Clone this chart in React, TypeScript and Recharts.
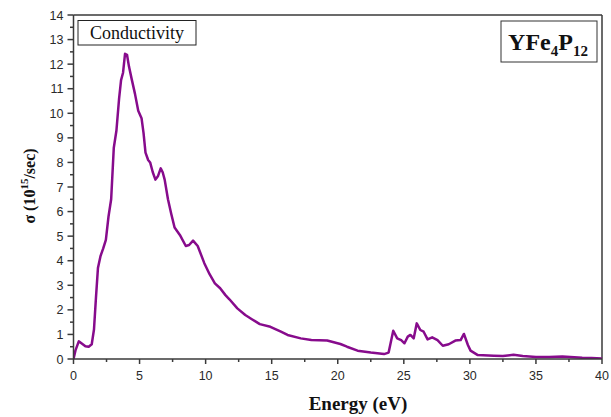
import React from "react";
import { LineChart, Line, XAxis, YAxis, ReferenceLine } from "recharts";

// Photon energy (eV) and optical conductivity σ (10^15 /sec)
const energy = [
  0, 0.15, 0.4, 0.65, 0.9, 1.15, 1.38, 1.55, 1.7, 1.85,
  2.05, 2.25, 2.45, 2.65, 2.85, 3.05, 3.25, 3.45, 3.6, 3.75,
  3.9, 4.05, 4.2, 4.4, 4.65, 4.9, 5.15, 5.3, 5.45, 5.65,
  5.8, 6.0, 6.2, 6.4, 6.6, 6.75, 6.9, 7.15, 7.4, 7.65,
  8.05, 8.5, 8.75, 9.05, 9.4, 9.9, 10.3, 10.7, 11.1, 11.5,
  11.8, 12.4, 13.0, 13.5, 14.1, 14.9, 15.7, 16.2, 17.2, 18.0,
  19.2, 20.2, 20.7, 21.5, 22.5, 23.5, 23.85, 24.2, 24.5, 24.8,
  25.05, 25.3, 25.5, 25.75, 25.98, 26.25, 26.5, 26.8, 27.15, 27.55,
  27.95, 28.4, 28.9, 29.3, 29.55, 29.85, 30.05, 30.6, 31.0, 31.8,
  32.5, 33.3, 34.0, 35.0, 36.0, 37.0, 37.6, 38.5, 39.2, 40,
];

const sigma = [
  0, 0.35, 0.72, 0.62, 0.52, 0.5, 0.6, 1.2, 2.5, 3.7,
  4.2, 4.5, 4.85, 5.8, 6.5, 8.6, 9.3, 10.6, 11.35, 11.65,
  12.42, 12.38, 11.9, 11.4, 10.8, 10.1, 9.8, 9.2, 8.4, 8.1,
  8.0, 7.6, 7.3, 7.45, 7.76, 7.6, 7.3, 6.5, 5.9, 5.35,
  5.05, 4.6, 4.64, 4.82, 4.6, 3.9, 3.45, 3.08, 2.88, 2.6,
  2.43, 2.06, 1.79, 1.62, 1.42, 1.31, 1.11, 0.98, 0.84, 0.77,
  0.75, 0.61, 0.5, 0.34, 0.26, 0.2, 0.26, 1.15, 0.84, 0.77,
  0.64, 0.91, 0.98, 0.84, 1.45, 1.18, 1.11, 0.8, 0.88, 0.77,
  0.54, 0.6, 0.75, 0.77, 1.02, 0.57, 0.34, 0.16, 0.15, 0.13,
  0.12, 0.17, 0.12, 0.08, 0.08, 0.1, 0.08, 0.05, 0.04, 0.02,
];

// Major ticks get labels; the in-between ones are drawn as short minor ticks
const xTicks = [0, 2.5, 5, 7.5, 10, 12.5, 15, 17.5, 20, 22.5, 25, 27.5, 30, 32.5, 35, 37.5, 40];
const yTicks = [
  0, 0.5, 1, 1.5, 2, 2.5, 3, 3.5, 4, 4.5, 5, 5.5, 6, 6.5, 7,
  7.5, 8, 8.5, 9, 9.5, 10, 10.5, 11, 11.5, 12, 12.5, 13, 13.5, 14,
];

const data = energy.map((e, i) => ({ e, s: sigma[i] }));

const AXIS = "#3a3a3a";
const LINE = "#870b8c";
const TICK_FONT = "'Liberation Sans', Arial, sans-serif";
const SERIF = "'Liberation Serif', 'Times New Roman', serif";

const XTick = (props: any) => {
  const { x, y, payload } = props;
  const major = payload.value % 5 === 0;
  return (
    <g>
      <line x1={x} x2={x} y1={y} y2={y + (major ? 5 : 3)} stroke={AXIS} strokeWidth={1.5} />
      {major && (
        <text x={x} y={y + 21} textAnchor="middle" fontSize={12.5} fontFamily={TICK_FONT} fill="#2a2a2a">
          {payload.value}
        </text>
      )}
    </g>
  );
};

const YTick = (props: any) => {
  const { x, y, payload } = props;
  const major = Number.isInteger(payload.value);
  return (
    <g>
      <line x1={x} x2={x - (major ? 6 : 3.5)} y1={y} y2={y} stroke={AXIS} strokeWidth={1.5} />
      {major && (
        <text x={x - 10} y={y + 4.5} textAnchor="end" fontSize={12.5} fontFamily={TICK_FONT} fill="#2a2a2a">
          {payload.value}
        </text>
      )}
    </g>
  );
};

export default function App() {
  return (
    <div style={{ position: "absolute", left: 0, top: 0, width: 611, height: 417, background: "#fff" }}>
      <LineChart width={611} height={417} data={data} margin={{ top: 15, right: 9, bottom: 0, left: 0 }}>
        <XAxis
          dataKey="e"
          type="number"
          domain={[0, 40]}
          ticks={xTicks}
          interval={0}
          tickSize={0}
          tickMargin={0}
          tickLine={false}
          tick={<XTick />}
          axisLine={{ stroke: AXIS, strokeWidth: 1.5 }}
          height={58}
          allowDataOverflow
        />
        <YAxis
          type="number"
          domain={[0, 14]}
          ticks={yTicks}
          interval={0}
          tickSize={0}
          tickMargin={0}
          tickLine={false}
          tick={<YTick />}
          axisLine={{ stroke: AXIS, strokeWidth: 1.5 }}
          width={73.5}
          allowDataOverflow
        />
        <ReferenceLine y={14} stroke={AXIS} strokeWidth={1.5} />
        <ReferenceLine x={40} stroke={AXIS} strokeWidth={1.5} />
        <Line
          type="linear"
          dataKey="s"
          stroke={LINE}
          strokeWidth={2.5}
          dot={false}
          isAnimationActive={false}
          strokeLinejoin="round"
        />

        {/* series caption */}
        <rect x={78} y={20.5} width={118} height={24.5} fill="#fff" stroke="#222" strokeWidth={1} />
        <text x={137} y={39} textAnchor="middle" fontSize={18} fontFamily={SERIF} fill="#111">
          Conductivity
        </text>

        {/* compound label */}
        <rect x={501} y={21} width={96} height={41} fill="#fff" stroke="#333" strokeWidth={1} />
        <text x={548} y={50} textAnchor="middle" fontFamily={SERIF} fontWeight="bold" fill="#111" fontSize={24}>
          YFe
          <tspan fontSize={15} dy={6}>4</tspan>
          <tspan dy={-6}>P</tspan>
          <tspan fontSize={15} dy={6}>12</tspan>
        </text>

        {/* axis titles */}
        <text x={358} y={410} textAnchor="middle" fontFamily={SERIF} fontWeight="bold" fontSize={19} fill="#111">
          Energy (eV)
        </text>
        <text
          transform="translate(35,186) rotate(-90)"
          textAnchor="middle"
          fontFamily={SERIF}
          fontWeight="bold"
          fontSize={16}
          fill="#111"
        >
          σ (10
          <tspan fontSize={11} dy={-7}>15</tspan>
          <tspan dy={7}>/sec)</tspan>
        </text>
      </LineChart>
    </div>
  );
}
